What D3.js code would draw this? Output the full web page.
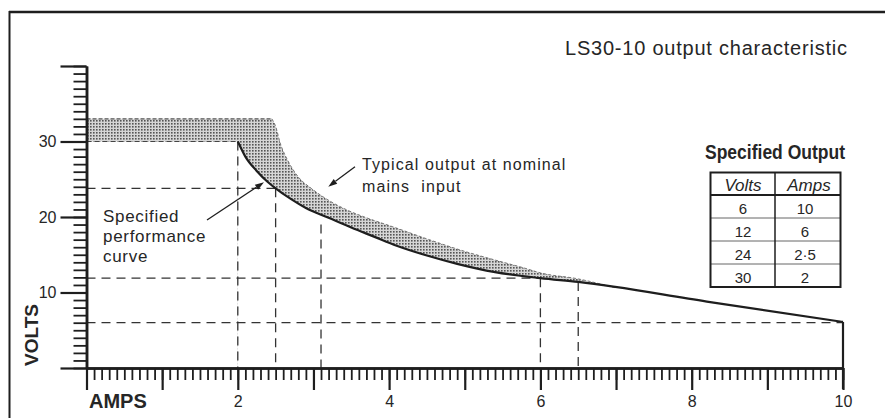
<!DOCTYPE html>
<html><head><meta charset="utf-8">
<script src="https://cdn.jsdelivr.net/npm/d3@7"></script>
<style>
body{margin:0;background:#fff}
svg{display:block}
text{font-family:"Liberation Sans",Arial,Helvetica,sans-serif;fill:#262626}
</style>
</head><body><svg id="c" width="885" height="418"></svg>
<script>
// ---- data ----
const chartTitle = "LS30-10 output characteristic";
const xLabelTicks = [2, 4, 6, 8, 10];
const yLabelTicks = [10, 20, 30];
// specified performance curve (solid)
const specAmps  = [2.0, 2.1, 2.25, 2.4, 2.5, 2.7, 2.9, 3.2, 3.5, 3.8, 4.1, 4.5, 4.9, 5.4, 6.0, 6.5, 8.2, 10.0];
const specVolts = [30.0, 28.0, 26.1, 24.6, 23.8, 22.4, 21.2, 19.9, 18.6, 17.4, 16.2, 14.9, 13.8, 12.7, 11.9, 11.4, 8.8, 6.1];
const specFlatVolts = 30, specFlatEndAmps = 2.0;
// typical output at nominal mains input (upper edge of shaded band)
const typAmps  = [2.45, 2.5, 2.56, 2.66, 2.8, 2.97, 3.17, 3.45, 3.7, 4.05, 4.5, 4.95, 5.4, 5.8, 6.0, 6.5, 7.0];
const typVolts = [33.0, 32.0, 29.8, 27.5, 25.3, 23.8, 22.4, 20.9, 19.9, 18.7, 17.1, 15.6, 14.3, 13.2, 12.6, 11.8, 10.6];
const typFlatVolts = 33, typFlatEndAmps = 2.45;
// dashed guide lines
const guideHVolts   = [23.8, 11.9, 6];
const guideHEndAmps = [2.5, 6.0, 10];
const guideVAmps    = [2.0, 2.5, 3.1, 6.0, 6.5];
const guideVTopVolts= [30, 23.8, 19.0, 11.9, 11.4];
// table
const tableHeader = ["Volts", "Amps"];
const tableVolts = ["6", "12", "24", "30"];
const tableAmps  = ["10", "6", "2·5", "2"];

// ---- drawing ----
const svg = d3.select("#c");
const x = d3.scaleLinear().domain([0, 10]).range([86.5, 843]);
const y = d3.scaleLinear().domain([0, 40]).range([368, 66]);
const ink = "#1e1e1e";

const defs = svg.append("defs");
const pat = defs.append("pattern").attr("id", "dots").attr("patternUnits", "userSpaceOnUse")
  .attr("width", 3).attr("height", 3);
pat.append("rect").attr("width", 3).attr("height", 3).attr("fill", "#d6d6d6");
pat.append("rect").attr("width", 1.6).attr("height", 1.6).attr("fill", "#555");

// frame
svg.append("line").attr("x1", 9).attr("x2", 885).attr("y1", 12).attr("y2", 12).attr("stroke", ink).attr("stroke-width", 2.5);
svg.append("line").attr("x1", 9.5).attr("x2", 9.5).attr("y1", 11).attr("y2", 418).attr("stroke", ink).attr("stroke-width", 2);

const spec = specAmps.map((a, i) => [a, specVolts[i]]);
const typ = typAmps.map((a, i) => [a, typVolts[i]]);

// shaded band: area under typical, then white area under spec
const areaGen = d3.area().x(d => x(d[0])).y0(y(0)).y1(d => y(d[1])).curve(d3.curveMonotoneX);
svg.append("rect").attr("x", x(0)).attr("y", y(typFlatVolts)).attr("width", x(typFlatEndAmps) - x(0))
  .attr("height", y(0) - y(typFlatVolts)).attr("fill", "url(#dots)");
svg.append("path").datum(typ).attr("d", areaGen).attr("fill", "url(#dots)");
svg.append("rect").attr("x", x(0)).attr("y", y(specFlatVolts)).attr("width", x(specFlatEndAmps) - x(0))
  .attr("height", y(0) - y(specFlatVolts)).attr("fill", "#fff");
svg.append("path").datum(spec).attr("d", areaGen).attr("fill", "#fff");

// band edges
const straight = d3.line().x(d => x(d[0])).y(d => y(d[1]));
const lineGen = d3.line().x(d => x(d[0])).y(d => y(d[1])).curve(d3.curveMonotoneX);
svg.append("path").datum([[0, typFlatVolts], [typFlatEndAmps, typFlatVolts]]).attr("d", straight)
  .attr("stroke", "#555").attr("stroke-width", 1.2).attr("stroke-dasharray", "4,2").attr("fill", "none");
svg.append("path").datum(typ).attr("d", lineGen)
  .attr("stroke", "#777").attr("stroke-width", 1).attr("stroke-dasharray", "3,2").attr("fill", "none");
svg.append("path").datum([[0, specFlatVolts], [specFlatEndAmps, specFlatVolts]]).attr("d", straight)
  .attr("stroke", "#444").attr("stroke-width", 1.2).attr("stroke-dasharray", "5,3").attr("fill", "none");

// dashed guides
const g = svg.append("g").attr("stroke", "#333").attr("stroke-width", 1.3).attr("stroke-dasharray", "9,6");
guideHVolts.forEach((v, i) => {
  g.append("line").attr("x1", x(0)).attr("x2", x(guideHEndAmps[i])).attr("y1", y(v)).attr("y2", y(v));
});
guideVAmps.forEach((a, i) => {
  g.append("line").attr("x1", x(a)).attr("x2", x(a)).attr("y1", y(guideVTopVolts[i])).attr("y2", y(0));
});

// spec curve
svg.append("path").datum(spec).attr("d", lineGen).attr("stroke", ink).attr("stroke-width", 2.2).attr("fill", "none");
svg.append("line").attr("x1", x(10)).attr("x2", x(10)).attr("y1", y(specVolts[specVolts.length - 1])).attr("y2", 389)
  .attr("stroke", ink).attr("stroke-width", 2.2);

// y axis
const yMinor = d3.axisLeft(y).tickValues(d3.range(0, 41)).tickSize(13).tickSizeOuter(0).tickFormat("");
const yMajor = d3.axisLeft(y).tickValues([0, 10, 20, 30, 40]).tickSize(26).tickSizeOuter(0).tickPadding(4)
  .tickFormat(d => yLabelTicks.includes(d) ? d : "");
const gyMinor = svg.append("g").attr("transform", `translate(${x(0)},0)`).call(yMinor);
const gyMajor = svg.append("g").attr("transform", `translate(${x(0)},0)`).call(yMajor);
[gyMinor, gyMajor].forEach(gg => {
  gg.selectAll("line").attr("stroke", ink).attr("stroke-width", 1.8);
  gg.select(".domain").attr("stroke", ink).attr("stroke-width", 2.5);
});
gyMajor.selectAll("line").attr("stroke-width", 2.2);
gyMajor.selectAll("text").attr("font-size", 16).attr("fill", "#333").attr("font-family", "Liberation Sans, Arial, sans-serif");

// x axis
const xMinor = d3.axisBottom(x).tickValues(d3.range(0, 101).map(i => i / 10)).tickSize(12).tickSizeOuter(0).tickFormat("");
const xMajor = d3.axisBottom(x).tickValues(d3.range(0, 11)).tickSize(22).tickSizeOuter(0).tickPadding(6)
  .tickFormat(d => xLabelTicks.includes(d) ? d : "");
const gxMinor = svg.append("g").attr("transform", `translate(0,${y(0)})`).call(xMinor);
const gxMajor = svg.append("g").attr("transform", `translate(0,${y(0)})`).call(xMajor);
[gxMinor, gxMajor].forEach(gg => {
  gg.selectAll("line").attr("stroke", ink).attr("stroke-width", 1.8);
  gg.select(".domain").attr("stroke", ink).attr("stroke-width", 2.5);
});
gxMajor.selectAll("line").attr("stroke-width", 2.2);
gxMajor.selectAll("text").attr("font-size", 16).attr("fill", "#333").attr("font-family", "Liberation Sans, Arial, sans-serif");

// axis titles
svg.append("text").attr("transform", "translate(31,335) rotate(-90)").attr("text-anchor", "middle")
  .attr("dominant-baseline", "central").attr("font-size", 19).attr("font-weight", "bold").text("VOLTS");
svg.append("text").attr("x", 89).attr("y", 408).attr("font-size", 20).attr("font-weight", "bold").text("AMPS");

// title
svg.append("text").attr("x", 565).attr("y", 55).attr("font-size", 20).attr("textLength", 282)
  .attr("lengthAdjust", "spacing").text(chartTitle);

// annotations
const ann1 = ["Specified", "performance", "curve"];
ann1.forEach((t, i) => svg.append("text").attr("x", 103).attr("y", 222 + i * 20).attr("font-size", 17)
  .attr("letter-spacing", 0.7).text(t));
const ann2 = ["Typical output at nominal", "mains  input"];
ann2.forEach((t, i) => svg.append("text").attr("x", 362).attr("y", 170 + i * 21.5).attr("font-size", 16)
  .attr("letter-spacing", 1.1).style("white-space", "pre").text(t));

// arrows (in data units)
const arrows = [
  {from: [1.593, 19.6], to: [2.346, 24.6]},
  {from: [3.549, 26.66], to: [3.196, 24.01]}
];
arrows.forEach(a => {
  const x1 = x(a.from[0]), y1 = y(a.from[1]), x2 = x(a.to[0]), y2 = y(a.to[1]);
  const ang = Math.atan2(y2 - y1, x2 - x1);
  const L = 9, W = 3;
  const bx = x2 - L * Math.cos(ang), by = y2 - L * Math.sin(ang);
  svg.append("line").attr("x1", x1).attr("y1", y1).attr("x2", bx).attr("y2", by).attr("stroke", ink).attr("stroke-width", 1.3);
  svg.append("path").attr("d", `M${x2},${y2}L${bx - W * Math.sin(ang)},${by + W * Math.cos(ang)}L${bx + W * Math.sin(ang)},${by - W * Math.cos(ang)}Z`).attr("fill", ink);
});

// table
svg.append("text").attr("x", 705).attr("y", 159).attr("font-size", 21).attr("font-weight", "bold")
  .attr("textLength", 140).attr("lengthAdjust", "spacingAndGlyphs").text("Specified Output");
const tX0 = 710.5, tX1 = 840.5, tMid = 775, tY0 = 172.5, tHead = 195, rowH = 23;
const rowsY = tableVolts.map((_, i) => tHead + i * rowH);
rowsY.slice(1).forEach(ry => svg.append("line").attr("x1", tX0).attr("x2", tX1).attr("y1", ry).attr("y2", ry)
  .attr("stroke", "#666").attr("stroke-width", 1));
svg.append("line").attr("x1", tX0).attr("x2", tX1).attr("y1", tHead).attr("y2", tHead).attr("stroke", ink).attr("stroke-width", 2);
svg.append("line").attr("x1", tMid).attr("x2", tMid).attr("y1", tY0).attr("y2", tHead + 4 * rowH).attr("stroke", ink).attr("stroke-width", 1.5);
svg.append("rect").attr("x", tX0).attr("y", tY0).attr("width", tX1 - tX0).attr("height", tHead + 4 * rowH - tY0)
  .attr("fill", "none").attr("stroke", ink).attr("stroke-width", 2);
svg.append("text").attr("x", 743).attr("y", 191).attr("text-anchor", "middle").attr("font-size", 17).attr("font-style", "italic").text(tableHeader[0]);
svg.append("text").attr("x", 809).attr("y", 191).attr("text-anchor", "middle").attr("font-size", 17).attr("font-style", "italic").text(tableHeader[1]);
tableVolts.forEach((v, i) => {
  svg.append("text").attr("x", 743).attr("y", rowsY[i] + 18.5).attr("text-anchor", "middle").attr("font-size", 15).attr("fill", "#333").text(v);
  svg.append("text").attr("x", 805).attr("y", rowsY[i] + 18.5).attr("text-anchor", "middle").attr("font-size", 15).attr("fill", "#333").text(tableAmps[i]);
});
</script>
</body></html>
